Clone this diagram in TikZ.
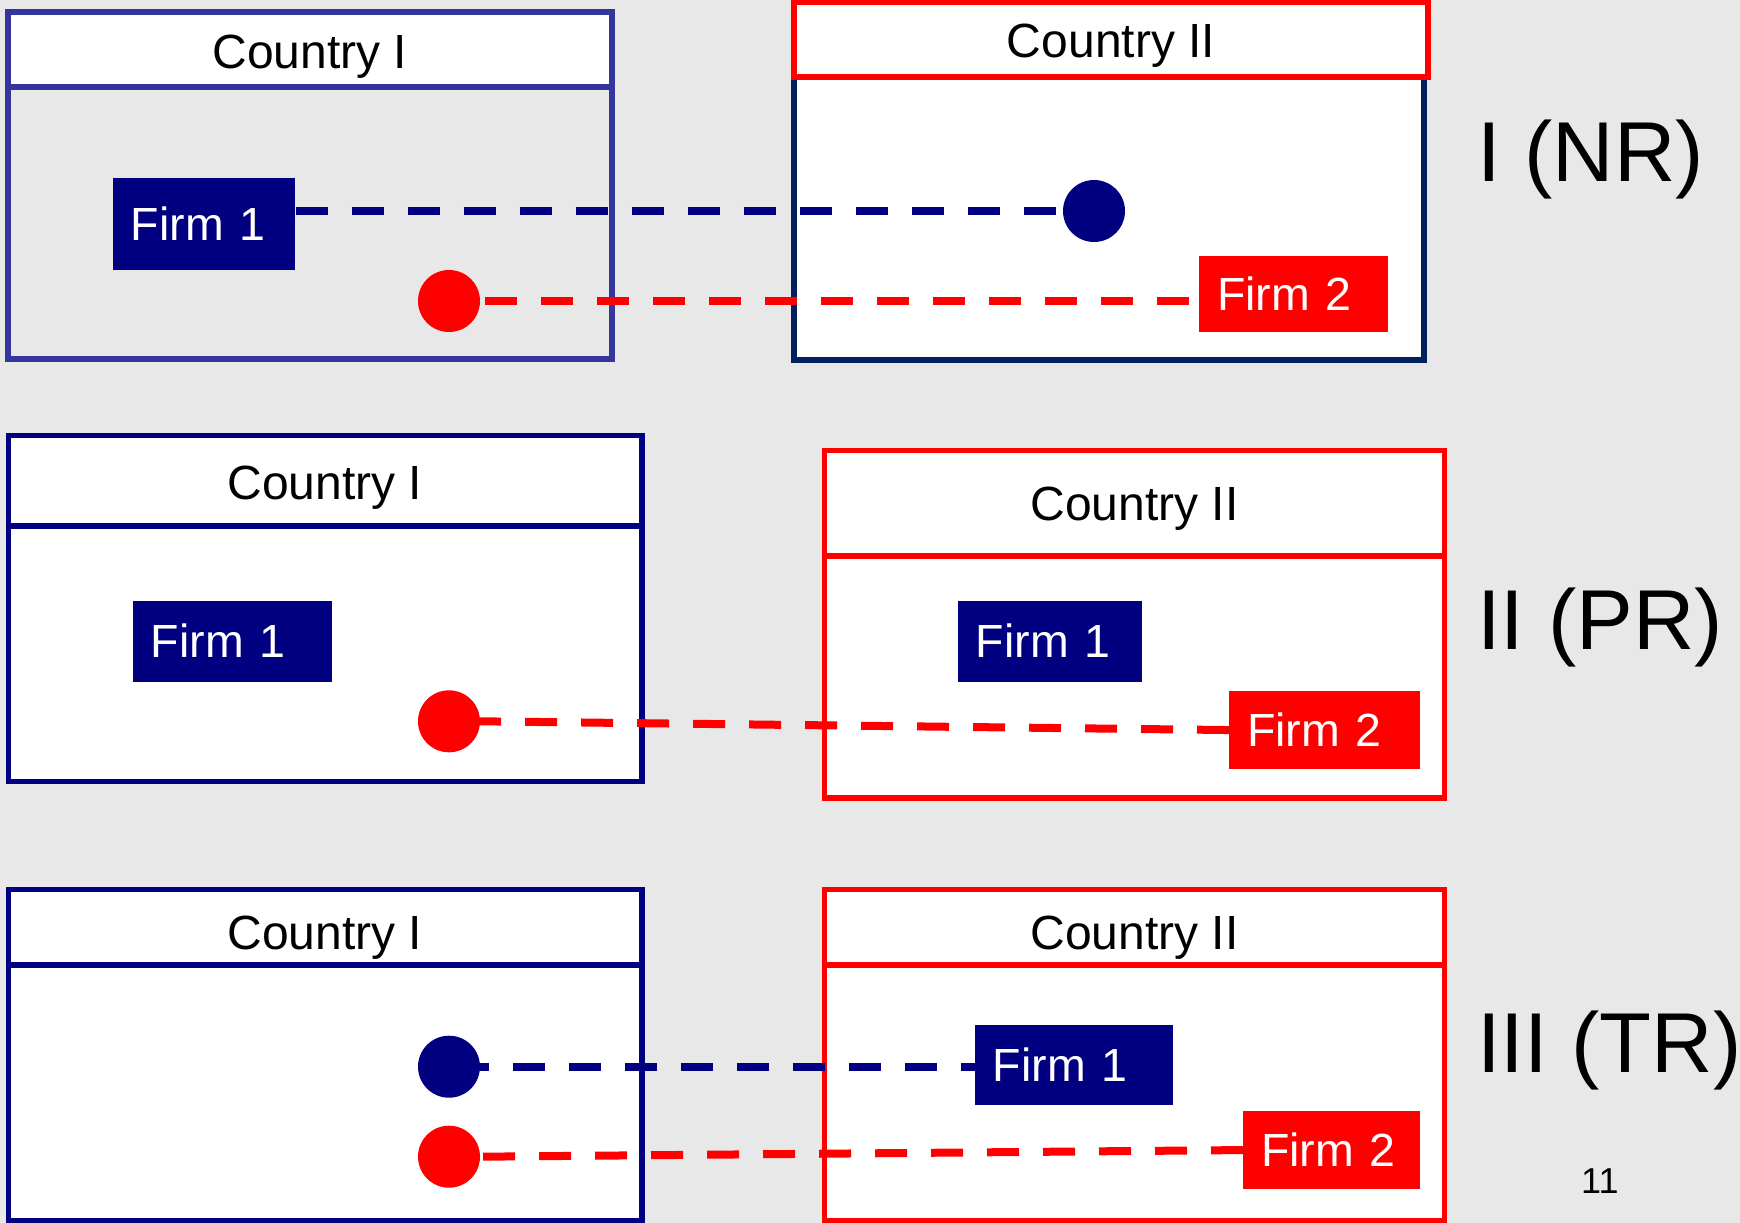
\documentclass[tikz,border=0pt]{standalone}
\usepackage{fontspec}
\setmainfont{Liberation Sans}
\definecolor{bg}{HTML}{E8E8E8}
\definecolor{navy}{HTML}{000080}
\definecolor{slate}{HTML}{35359E}
\definecolor{darknavy}{HTML}{002060}
\definecolor{myred}{HTML}{FF0000}
\begin{document}
\begin{tikzpicture}[x=1pt,y=-1pt,
  box/.style={line width=5.5pt},
  firm/.style={inner xsep=18pt, inner ysep=0pt, align=left, text=white,
    font=\fontsize{46.5}{50}\selectfont, anchor=north west},
  dot/.style={circle, inner sep=0pt, minimum size=62pt},
  conn/.style={line width=8pt, dash pattern=on 32pt off 24pt},
  ctry/.style={font=\fontsize{48}{50}\selectfont, anchor=base, inner sep=0pt},
  tag/.style={font=\fontsize{85}{90}\selectfont, anchor=base west, inner sep=0pt}]
\fill[bg] (0,0) rectangle (1740,1223);
\useasboundingbox (0,0) rectangle (1740,1223);

% ---------- Panel I (NR) ----------
\fill[white] (8,12) rectangle (612,87);
\draw[box, slate] (8,12) rectangle (612,359);
\draw[box, slate] (8,87) -- (612,87);
\node[ctry] (c1a) at (310,68) {Country I};

\fill[white] (794,77) rectangle (1424,360);
\draw[box, darknavy] (794,77) rectangle (1424,360);
\filldraw[box, draw=myred, fill=white] (794,2) rectangle (1428,77);
\node[ctry] (c1b) at (1111,57.5) {Country II};

\node[firm, fill=navy, text width=146.6pt, minimum height=91.6pt] (f1a) at (112.6,177.7) {Firm 1};
\node[firm, fill=myred, text width=153pt, minimum height=75.7pt] (f2a) at (1199,256) {Firm 2};
\node[dot, fill=navy] (b1) at (1094,211) {};
\node[dot, fill=myred] (r1) at (449,301) {};
\draw[conn, navy] (f1a.east |- b1.west) -- (b1.west);
\draw[conn, myred, dash phase=46pt] (f2a.west |- r1.east) -- (r1.east);
\node[tag] (t1) at (1477,181) {I (NR)};

% ---------- Panel II (PR) ----------
\filldraw[box, draw=navy, fill=white] (8.3,435.5) rectangle (642,781.7);
\draw[box, navy] (8.3,525.8) -- (642,525.8);
\node[ctry] (c2a) at (325,499) {Country I};

\filldraw[box, draw=myred, fill=white] (824.7,450.7) rectangle (1444.5,798.2);
\draw[box, myred] (824.7,555.8) -- (1444.5,555.8);
\node[ctry] (c2b) at (1134.6,520) {Country II};

\node[firm, fill=navy, text width=162.7pt, minimum height=81pt] (f1b) at (132.6,600.3) {Firm 1};
\node[firm, fill=navy, text width=147.7pt, minimum height=81pt] (f1c) at (957.6,600.3) {Firm 1};
\node[firm, fill=myred, text width=154.3pt, minimum height=77.7pt] (f2b) at (1229,691) {Firm 2};
\node[dot, fill=myred] (r2) at (449,721.3) {};
\draw[conn, myred] (f2b.west) -- (r2.east);
\node[tag] (t2) at (1477,649.3) {II (PR)};

% ---------- Panel III (TR) ----------
\filldraw[box, draw=navy, fill=white] (8.3,889.5) rectangle (642,1220.3);
\draw[box, navy] (8.3,964.8) -- (642,964.8);
\node[ctry] (c3a) at (325,949.3) {Country I};

\filldraw[box, draw=myred, fill=white] (824.7,889.5) rectangle (1444.5,1220.3);
\draw[box, myred] (824.7,964.8) -- (1444.5,964.8);
\node[ctry] (c3b) at (1134.6,949.3) {Country II};

\node[firm, fill=navy, text width=162.4pt, minimum height=80.7pt] (f1d) at (974.7,1024.3) {Firm 1};
\node[firm, fill=myred, text width=141pt, minimum height=77.7pt] (f2c) at (1243,1111) {Firm 2};
\node[dot, fill=navy] (b3) at (449,1066.7) {};
\node[dot, fill=myred] (r3) at (449,1156.7) {};
\draw[conn, navy, dash phase=23pt] (b3.east) -- (f1d.west |- b3.east);
\draw[conn, myred] (f2c.west) -- (r3.east);
\node[tag] (t3) at (1477,1072.7) {III (TR)};

\node[font=\fontsize{36}{40}\selectfont, anchor=base west, inner sep=0pt] (pg) at (1581,1193.3) {11};
\end{tikzpicture}
\end{document}
